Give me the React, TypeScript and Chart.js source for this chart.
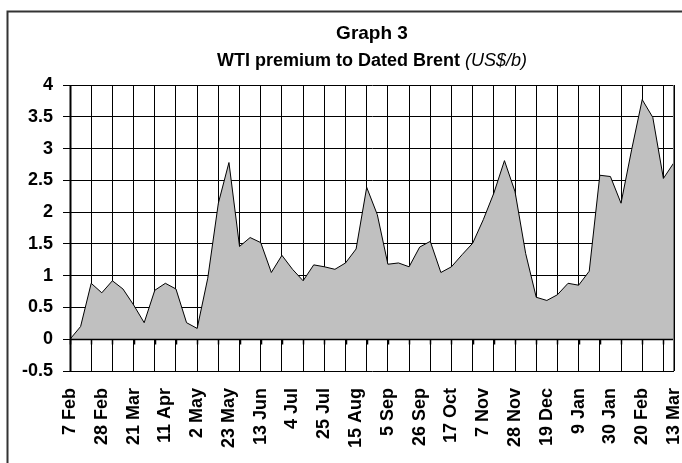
import React, { useEffect, useRef } from "react";
import { Chart, registerables } from "chart.js";

Chart.register(...registerables);

const tickLabels = [
  "7 Feb", "28 Feb", "21 Mar", "11 Apr", "2 May", "23 May", "13 Jun", "4 Jul",
  "25 Jul", "15 Aug", "5 Sep", "26 Sep", "17 Oct", "7 Nov", "28 Nov", "19 Dec",
  "9 Jan", "30 Jan", "20 Feb", "13 Mar",
];

// weekly WTI premium to Dated Brent (US$/b)
const premium = [
  0, 0.2, 0.88, 0.73, 0.92, 0.79, 0.54, 0.26, 0.77, 0.88,
  0.79, 0.26, 0.17, 0.96, 2.14, 2.78, 1.46, 1.6, 1.52, 1.05,
  1.32, 1.1, 0.92, 1.17, 1.14, 1.1, 1.2, 1.42, 2.39, 1.96,
  1.18, 1.2, 1.14, 1.45, 1.54, 1.05, 1.14, 1.33, 1.51, 1.88,
  2.3, 2.81, 2.32, 1.35, 0.66, 0.61, 0.7, 0.88, 0.85, 1.07,
  2.58, 2.56, 2.14, 2.98, 3.77, 3.49, 2.53, 2.78,
];

const yMin = -0.5;
const yMax = 4;
const yStep = 0.5;
const labelEvery = 3;
const gridEvery = 2;

const titleLine1 = "Graph 3";
const titleLine2Bold = "WTI premium to Dated Brent ";
const titleLine2Italic = "(US$/b)";

const FONT = "'Liberation Sans', Arial, sans-serif";

export default function App() {
  const ref = useRef<HTMLCanvasElement | null>(null);

  useEffect(() => {
    document.body.style.margin = "0";
    const canvas = ref.current;
    if (!canvas) return;

    const labels = premium.map((_, i) =>
      i % labelEvery === 0 ? tickLabels[i / labelEvery] ?? "" : ""
    );

    const decor = {
      id: "decor",
      beforeDraw(chart: any) {
        const ctx = chart.ctx;
        ctx.save();
        ctx.fillStyle = "#fff";
        ctx.fillRect(0, 0, chart.width, chart.height);
        ctx.strokeStyle = "#333";
        ctx.lineWidth = 2;
        ctx.beginPath();
        ctx.moveTo(7.5, chart.height + 2);
        ctx.lineTo(7.5, 11.5);
        ctx.lineTo(chart.width + 2, 11.5);
        ctx.stroke();
        ctx.restore();
      },
      afterDatasetsDraw(chart: any) {
        const ctx = chart.ctx;
        const { left, right, top, bottom } = chart.chartArea;
        const x = chart.scales.x;
        const y = chart.scales.y;
        const y0 = Math.round(y.getPixelForValue(0)) + 0.5;
        ctx.save();
        ctx.strokeStyle = "#000";
        ctx.lineWidth = 1.5;
        ctx.beginPath();
        ctx.moveTo(left, y0);
        ctx.lineTo(right, y0);
        ctx.stroke();
        ctx.lineWidth = 1.5;
        ctx.beginPath();
        for (let i = 0; i < premium.length; i += gridEvery) {
          const px = Math.round(x.getPixelForValue(i)) + 0.5;
          ctx.moveTo(px, y0);
          ctx.lineTo(px, y0 + 5);
        }
        ctx.stroke();
        // left axis line
        ctx.lineWidth = 2;
        ctx.beginPath();
        ctx.moveTo(left + 0.5, top);
        ctx.lineTo(left + 0.5, bottom);
        ctx.stroke();
        // right edge
        ctx.strokeStyle = "#777";
        ctx.lineWidth = 1;
        ctx.beginPath();
        ctx.moveTo(Math.round(right) - 0.5, top);
        ctx.lineTo(Math.round(right) - 0.5, bottom);
        ctx.stroke();
        ctx.restore();
      },
      afterDraw(chart: any) {
        const ctx = chart.ctx;
        const { left, right } = chart.chartArea;
        const cx = (left + right) / 2;
        ctx.save();
        ctx.fillStyle = "#000";
        ctx.textBaseline = "alphabetic";
        ctx.textAlign = "center";
        ctx.font = `bold 19px ${FONT}`;
        ctx.fillText(titleLine1, cx, 39);
        ctx.textAlign = "left";
        const boldFont = `bold 18px ${FONT}`;
        const italFont = `italic 18px ${FONT}`;
        ctx.font = boldFont;
        const wb = ctx.measureText(titleLine2Bold).width;
        ctx.font = italFont;
        const wi = ctx.measureText(titleLine2Italic).width;
        const start = cx - (wb + wi) / 2;
        ctx.font = boldFont;
        ctx.fillText(titleLine2Bold, start, 66);
        ctx.font = italFont;
        ctx.fillText(titleLine2Italic, start + wb, 66);
        ctx.restore();
      },
    };

    const chart = new Chart(canvas, {
      type: "line",
      data: {
        labels,
        datasets: [
          {
            data: premium,
            borderColor: "#000",
            borderWidth: 1,
            backgroundColor: "#C0C0C0",
            fill: "origin",
            pointRadius: 0,
            tension: 0,
          },
        ],
      },
      options: {
        animation: false,
        responsive: false,
        maintainAspectRatio: false,
        layout: { padding: { top: 85, left: 0, right: 8, bottom: 0 } },
        plugins: {
          legend: { display: false },
          title: { display: false },
          tooltip: { enabled: false },
        },
        scales: {
          x: {
            type: "category",
            offset: false,
            afterFit(scale: any) {
              scale.height = 92;
              scale.paddingRight = 0;
              scale.paddingLeft = 0;
            },
            grid: {
              offset: false,
              drawTicks: false,
              color: (c: any) =>
                c.index % gridEvery === 0 || c.index === premium.length - 1
                  ? "#000"
                  : "rgba(0,0,0,0)",
              lineWidth: 1,
            },
            border: { display: false },
            ticks: {
              autoSkip: false,
              maxRotation: 90,
              minRotation: 90,
              padding: 17,
              color: "#000",
              font: { family: FONT, size: 18, weight: "bold" },
            },
          },
          y: {
            min: yMin,
            max: yMax,
            afterFit(scale: any) {
              scale.width = 70;
            },
            grid: {
              color: "#000",
              lineWidth: 1,
              tickLength: 7,
            },
            border: { display: true, color: "#000", width: 1 },
            ticks: {
              stepSize: yStep,
              padding: 10,
              color: "#000",
              font: { family: FONT, size: 18, weight: "bold" },
              callback: (v: any) => String(Math.round(Number(v) * 100) / 100),
            },
          },
        },
      },
      plugins: [decor],
    });

    return () => chart.destroy();
  }, []);

  return (
    <div style={{ width: 682, height: 463 }}>
      <canvas ref={ref} width={682} height={463} style={{ display: "block" }} />
    </div>
  );
}
